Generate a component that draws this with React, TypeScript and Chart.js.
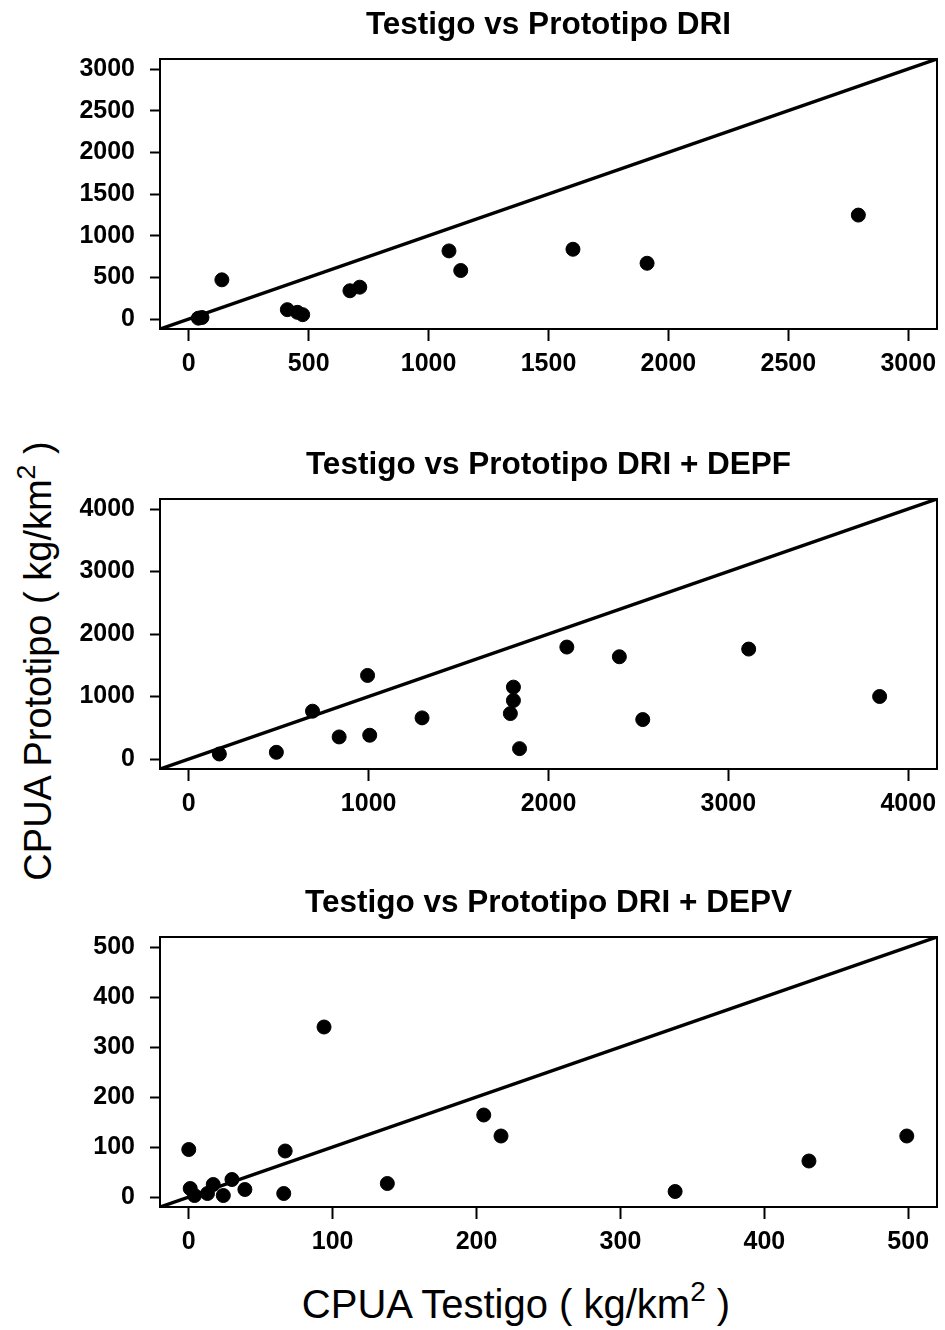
import { useEffect, useRef } from "react";
import { Chart, registerables } from "chart.js";

Chart.register(...registerables);

const FONT = '"Liberation Sans", Arial, Helvetica, sans-serif';

// Panel 1: Testigo vs Prototipo DRI
const DRI_TITLE = "Testigo vs Prototipo DRI";
const DRI_TESTIGO = [40, 55, 138, 411, 453, 475, 672, 713, 1085, 1134, 1602, 1911, 2792];
const DRI_PROTOTIPO = [10, 18, 470, 112, 80, 52, 339, 382, 817, 582, 837, 669, 1247];
const DRI_TICKS = [0, 500, 1000, 1500, 2000, 2500, 3000];
const DRI_LIMITS = [0, 3000];

// Panel 2: Testigo vs Prototipo DRI + DEPF
const DEPF_TITLE = "Testigo vs Prototipo DRI + DEPF";
const DEPF_TESTIGO = [170, 487, 688, 836, 994, 1006, 1297, 1788, 1805, 1805, 1839, 2102, 2394, 2524, 3113, 3841];
const DEPF_PROTOTIPO = [80, 107, 765, 353, 1337, 380, 658, 727, 1150, 936, 166, 1791, 1636, 631, 1759, 1000];
const DEPF_TICKS = [0, 1000, 2000, 3000, 4000];
const DEPF_LIMITS = [0, 4000];

// Panel 3: Testigo vs Prototipo DRI + DEPV
const DEPV_TITLE = "Testigo vs Prototipo DRI + DEPV";
const DEPV_TESTIGO = [0, 1, 4, 13, 17, 24, 30, 39, 66, 67, 94, 138, 205, 217, 338, 431, 499];
const DEPV_PROTOTIPO = [95, 17, 3, 7, 25, 3, 35, 15, 7, 92, 340, 27, 164, 122, 11, 72, 122];
const DEPV_TICKS = [0, 100, 200, 300, 400, 500];
const DEPV_LIMITS = [0, 500];

const X_LABEL = "CPUA Testigo ( kg/km";
const Y_LABEL = "CPUA Prototipo ( kg/km";

type PanelProps = {
  title: string;
  xs: number[];
  ys: number[];
  ticks: number[];
  limits: number[];
  top: number;
};

function Panel({ title, xs, ys, ticks, limits, top }: PanelProps) {
  const ref = useRef<HTMLCanvasElement>(null);

  useEffect(() => {
    if (!ref.current) return;
    const [a, b] = limits;
    const ext = 0.04 * (b - a);
    const lo = a - ext;
    const hi = b + ext;
    const points = xs.map((x, i) => ({ x, y: ys[i] }));

    const makeAxis = (isX: boolean) => ({
      type: "linear" as const,
      min: lo,
      max: hi,
      afterBuildTicks: (s: any) => {
        s.ticks = ticks.map((v) => ({ value: v }));
      },
      afterFit: (s: any) => {
        if (isX) s.height = 51;
        else s.width = 96;
      },
      grid: {
        display: true,
        drawOnChartArea: false,
        drawTicks: true,
        tickLength: isX ? 12 : 10,
        tickWidth: 2,
        tickColor: "#000",
        color: "#000",
      },
      border: { display: true, color: "#000", width: 2 },
      ticks: {
        color: "#000",
        font: { family: FONT, size: 25, weight: "bold" as const },
        padding: isX ? 8 : 15,
        autoSkip: false,
        maxRotation: 0,
        callback: (v: any) => String(v),
      },
    });

    const boxPlugin = {
      id: "panelBox",
      afterDraw(chart: any) {
        const { ctx, chartArea } = chart;
        ctx.save();
        ctx.strokeStyle = "#000";
        ctx.lineWidth = 2;
        ctx.strokeRect(
          chartArea.left,
          chartArea.top,
          chartArea.right - chartArea.left,
          chartArea.bottom - chartArea.top
        );
        ctx.font = `bold 31.5px ${FONT}`;
        ctx.fillStyle = "#000";
        ctx.textAlign = "center";
        ctx.textBaseline = "alphabetic";
        ctx.fillText(title, (chartArea.left + chartArea.right) / 2, chartArea.top - 25);
        ctx.restore();
      },
    };

    const chart = new Chart(ref.current, {
      type: "scatter",
      data: {
        datasets: [
          {
            data: [
              { x: lo, y: lo },
              { x: hi, y: hi },
            ],
            showLine: true,
            borderColor: "#000",
            borderWidth: 3.5,
            pointRadius: 0,
            pointHoverRadius: 0,
            order: 1,
          },
          {
            data: points,
            backgroundColor: "#000",
            borderColor: "#000",
            borderWidth: 1,
            pointRadius: 7,
            pointHoverRadius: 7,
            order: 0,
          },
        ],
      },
      options: {
        responsive: false,
        animation: false,
        events: [],
        layout: { padding: { top: 59, right: 8, left: 0, bottom: 0 } },
        plugins: {
          legend: { display: false },
          tooltip: { enabled: false },
          title: { display: false },
        },
        scales: {
          x: makeAxis(true),
          y: makeAxis(false),
        },
      },
      plugins: [boxPlugin],
    });
    return () => chart.destroy();
  }, [title, xs, ys, ticks, limits]);

  return (
    <canvas
      ref={ref}
      width={881}
      height={380}
      style={{ position: "absolute", left: 64, top, width: 881, height: 380 }}
    />
  );
}

const supStyle: React.CSSProperties = {
  fontSize: "0.7em",
  verticalAlign: "baseline",
  position: "relative",
  top: "-0.62em",
  lineHeight: 0,
};

export default function App() {
  return (
    <div
      style={{
        position: "absolute",
        left: 0,
        top: 0,
        width: 945,
        height: 1330,
        background: "#fff",
        overflow: "hidden",
      }}
    >
      <Panel title={DRI_TITLE} xs={DRI_TESTIGO} ys={DRI_PROTOTIPO} ticks={DRI_TICKS} limits={DRI_LIMITS} top={0} />
      <Panel title={DEPF_TITLE} xs={DEPF_TESTIGO} ys={DEPF_PROTOTIPO} ticks={DEPF_TICKS} limits={DEPF_LIMITS} top={440} />
      <Panel title={DEPV_TITLE} xs={DEPV_TESTIGO} ys={DEPV_PROTOTIPO} ticks={DEPV_TICKS} limits={DEPV_LIMITS} top={878} />
      <div
        style={{
          position: "absolute",
          left: 516,
          top: 1284,
          transform: "translateX(-50%)",
          font: `40px ${FONT}`,
          lineHeight: "40px",
          whiteSpace: "nowrap",
          color: "#000",
        }}
      >
        {X_LABEL}
        <span style={supStyle}>2</span> )
      </div>
      <div
        style={{
          position: "absolute",
          left: 38,
          top: 661,
          transform: "translate(-50%, -50%) rotate(-90deg)",
          font: `38px ${FONT}`,
          lineHeight: "38px",
          whiteSpace: "nowrap",
          color: "#000",
        }}
      >
        {Y_LABEL}
        <span style={supStyle}>2</span> )
      </div>
    </div>
  );
}
